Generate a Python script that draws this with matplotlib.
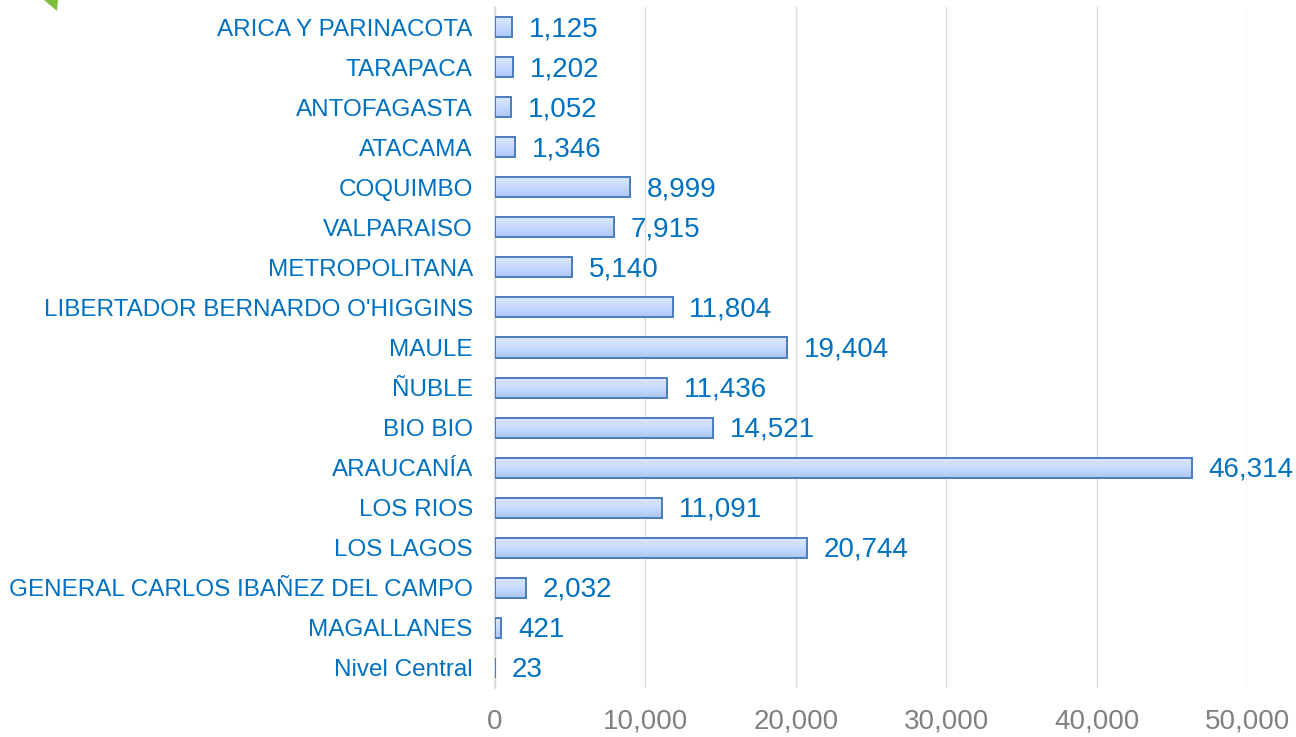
import matplotlib
matplotlib.use("Agg")
import matplotlib.pyplot as plt
import numpy as np
from matplotlib.patches import Polygon
from matplotlib.colors import LinearSegmentedColormap

categories = ["ARICA Y PARINACOTA", "TARAPACA", "ANTOFAGASTA", "ATACAMA",
              "COQUIMBO", "VALPARAISO", "METROPOLITANA",
              "LIBERTADOR BERNARDO O'HIGGINS", "MAULE", "ÑUBLE", "BIO BIO",
              "ARAUCANÍA", "LOS RIOS", "LOS LAGOS",
              "GENERAL CARLOS IBAÑEZ DEL CAMPO", "MAGALLANES", "Nivel Central"]
values = [1125, 1202, 1052, 1346, 8999, 7915, 5140, 11804, 19404, 11436,
          14521, 46314, 11091, 20744, 2032, 421, 23]
xticks = [0, 10000, 20000, 30000, 40000, 50000]

plt.rcParams['font.family'] = ['Liberation Sans', 'DejaVu Sans']

W, H = 1296, 737
fig = plt.figure(figsize=(W / 100, H / 100), dpi=100)
fig.patch.set_facecolor('white')
ax = fig.add_axes([495 / W, 1 - 688 / H, (1247 - 495) / W, (688 - 7) / H])
ax.set_facecolor('none')

n = len(categories)
pos = np.arange(n)
bh = 0.5
bars = ax.barh(pos, values, height=bh, facecolor='none',
               edgecolor='#4A7EBB', linewidth=1.4, zorder=3)

cmap = LinearSegmentedColormap.from_list('g', ['#DDE9FE', '#C8DAFC', '#ABC6F7'])
grad = np.linspace(0, 1, 64).reshape(-1, 1)
for b in bars:
    x0 = b.get_x()
    x1 = x0 + b.get_width()
    y0 = b.get_y()
    y1 = y0 + b.get_height()
    ax.imshow(grad, cmap=cmap, aspect='auto', origin='upper',
              extent=(x0, x1, y1, y0), zorder=2, interpolation='bilinear')

ax.set_xlim(0, 50000)
ax.set_ylim(n - 0.5, -0.5)
ax.set_xticks(xticks)
ax.set_xticklabels([f"{v:,}" for v in xticks], fontsize=20, color='#808080')
ax.set_yticks(pos)
ax.set_yticklabels(categories, fontsize=17.5, color='#0070C0')
ax.tick_params(axis='both', length=0)
ax.tick_params(axis='x', pad=15)
ax.tick_params(axis='y', pad=16)
ax.grid(axis='x', color='#D9D9D9', linewidth=1, zorder=0)
ax.set_axisbelow(True)
for s in ['top', 'right', 'bottom']:
    ax.spines[s].set_visible(False)
ax.spines['left'].set_color('#D9D9D9')
ax.spines['left'].set_linewidth(1.2)

for p, v in zip(pos, values):
    ax.annotate(f"{v:,}", xy=(v, p), xytext=(12, -1.5), textcoords='offset points',
                ha='left', va='center', fontsize=20, color='#0070C0', zorder=4)

# small green leaf tip at the top-left corner
leaf = Polygon([(44 / W, 1.0), (58 / W, 1.0), (57 / W, 1 - 11 / H)],
               closed=True, transform=fig.transFigure, facecolor='#7DBE3C',
               edgecolor='none')
fig.patches.append(leaf)

fig.savefig('out.png', dpi=100)
